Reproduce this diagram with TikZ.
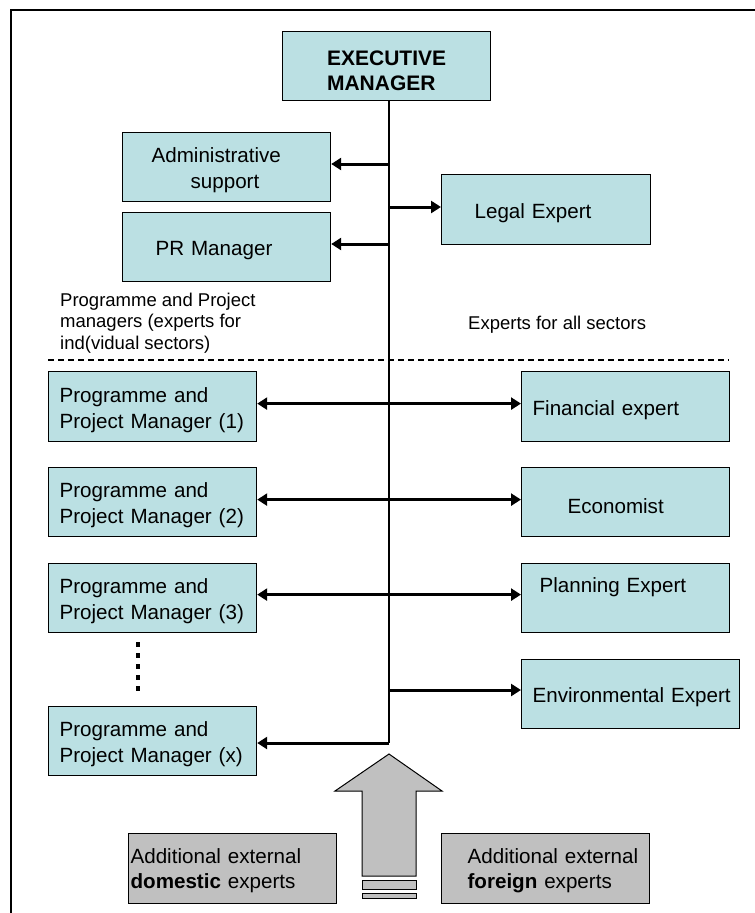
\documentclass[tikz,border=0pt]{standalone}
\usepackage{fontspec}
\setmainfont{Liberation Sans}
\usetikzlibrary{arrows.meta}
\definecolor{boxcyan}{HTML}{BBE0E3}
\definecolor{boxgray}{HTML}{C0C0C0}
\newcommand{\dn}{\rule{0pt}{22pt}}
\begin{document}
\begin{tikzpicture}[x=1pt,y=-1pt,
  box/.style={draw=black, line width=1.2pt, fill=boxcyan, minimum height=69pt, anchor=north west, inner ysep=0pt, font=\fontsize{20.6}{26}\selectfont, align=left},
  gbox/.style={box, fill=boxgray, font=\fontsize{20.6}{24.5}\selectfont},
  lab/.style={inner sep=0pt, font=\fontsize{18.5}{21.5}\selectfont, align=left},
  conn/.style={line width=3pt, -{Triangle[length=10pt,width=12pt]}},
  bconn/.style={line width=3pt, {Triangle[length=10pt,width=12pt]}-{Triangle[length=10pt,width=12pt]}},
  vline/.style={line width=1.3pt},
]
\useasboundingbox (0,0) rectangle (755,913);
\fill[white] (0,0) rectangle (755,913);
% frame
\draw[line width=2pt] (11,916) -- (11,10) -- (758,10);

% nodes
\node[box, minimum width=208pt, font=\bfseries\fontsize{21}{25}\selectfont] (exec) at (282,31) {\rule{0pt}{25pt}EXECUTIVE\\MANAGER};
\node[box, text width=186pt, inner xsep=11pt] (adm) at (122,132) {\dn\hspace*{18pt}Administrative\\\hspace*{57pt}support};
\node[box, text width=186pt, inner xsep=11pt] (pr) at (122,212) {\dn\hspace*{22pt}PR Manager};
\node[box, text width=187pt, inner xsep=11pt, minimum height=70pt] (legal) at (441,174) {\dn\hspace*{22pt}Legal Expert};

\node[lab, anchor=north west] (plab) at (60,292.5) {Programme and Project\\managers (experts for\\ind(vidual sectors)};
\node[lab, anchor=base west] (elab) at (468,329) {Experts for all sectors};

\node[box, text width=186pt, inner xsep=11pt, minimum height=70pt] (pm1) at (48,371) {\dn Programme and\\Project Manager (1)};
\node[box, text width=186pt, inner xsep=11pt] (pm2) at (48,467) {\dn Programme and\\Project Manager (2)};
\node[box, text width=186pt, inner xsep=11pt] (pm3) at (48,563) {\dn Programme and\\Project Manager (3)};
\node[box, text width=186pt, inner xsep=11pt] (pmx) at (48,706) {\dn Programme and\\Project Manager (x)};

\node[box, text width=186pt, inner xsep=11pt, minimum height=70pt] (fin) at (521,371) {\dn Financial expert};
\node[box, text width=186pt, inner xsep=11pt] (econ) at (521,467) {\dn\hspace*{35pt}Economist};
\node[box, text width=186pt, inner xsep=11pt] (plan) at (521,563) {\hspace*{7pt}Planning Expert\\\mbox{}};
\node[box, text width=206pt, inner xsep=6pt] (env) at (521,659) {\dn\hspace*{5pt}Environmental Expert};

\node[gbox, text width=204pt, inner xsep=2pt, minimum height=70pt] (dom) at (128,833) {\rule{0pt}{19pt}Additional external\\\textbf{domestic} experts};
\node[gbox, text width=186pt, inner xsep=11pt, minimum height=70pt] (for) at (441,833) {\rule{0pt}{19pt}\hspace*{15pt}Additional external\\\hspace*{15pt}\textbf{foreign} experts};

% dashed separator and dotted continuation
\draw[line width=2pt, dash pattern=on 6pt off 4pt] (48,360) -- (729,360);
\draw[line width=4pt, dash pattern=on 5pt off 6pt] (138,642) -- (138,692);

% trunk
\coordinate (vt) at (389,100);
\coordinate (vb) at (389,743);
\draw[vline] (vt) -- (vb);

\coordinate (ja) at (389,164);
\coordinate (jl) at (389,207);
\coordinate (jp) at (389,244);
\coordinate (je) at (389,690);
\draw[conn] (ja) -- (ja -| adm.east);
\draw[conn] (jl) -- (jl -| legal.west);
\draw[conn] (jp) -- (jp -| pr.east);
\draw[conn] (je) -- (je -| env.west);
\draw[conn] (vb) -- (vb -| pmx.east);

\draw[bconn] ([yshift=3pt]pm1.east) -- ([yshift=3pt]fin.west);
\draw[bconn] ([yshift=2.5pt]pm2.east) -- ([yshift=2.5pt]econ.west);
\draw[bconn] ([yshift=3.5pt]pm3.east) -- ([yshift=3.5pt]plan.west);

% big block arrow
\draw[fill=boxgray, line width=1pt, line join=miter] (362,876) -- (362,791) -- (335,791) -- (389,754) -- (442,791) -- (416,791) -- (416,876) -- cycle;
\draw[fill=boxgray, line width=1pt] (362,880) rectangle (416,889);
\draw[fill=boxgray, line width=1pt] (362,893) rectangle (416,898);
\end{tikzpicture}
\end{document}
